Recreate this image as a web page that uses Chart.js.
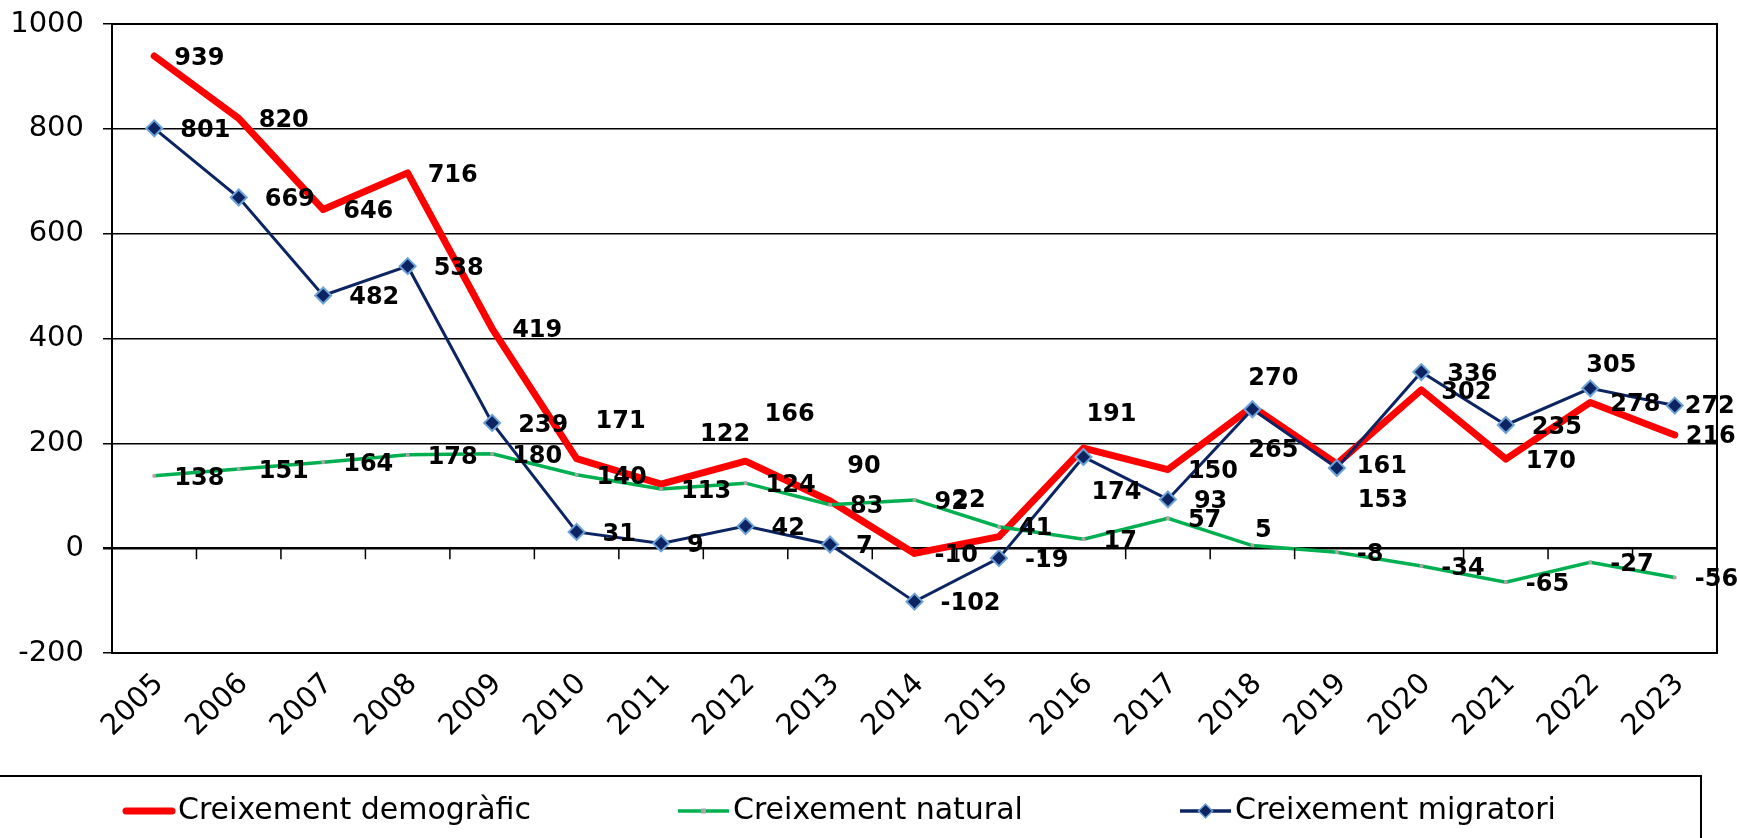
<!DOCTYPE html>
<html>
<head>
<meta charset="utf-8">
<script src="https://cdn.jsdelivr.net/npm/chart.js@4.4.0/dist/chart.umd.min.js"></script>
<style>
  html, body { margin: 0; padding: 0; background: #fff; }
  canvas { display: block; }
</style>
</head>
<body>
<canvas id="chart" width="1737" height="838"></canvas>
<script>
// data
var years = ['2005','2006','2007','2008','2009','2010','2011','2012','2013','2014',
             '2015','2016','2017','2018','2019','2020','2021','2022','2023'];
var demografic = [939, 820, 646, 716, 419, 171, 122, 166, 90, -10, 22, 191, 150, 270, 161, 302, 170, 278, 216];
var natural    = [138, 151, 164, 178, 180, 140, 113, 124, 83, 92, 41, 17, 57, 5, -8, -34, -65, -27, -56];
var migratori  = [801, 669, 482, 538, 239, 31, 9, 42, 7, -102, -19, 174, 93, 265, 153, 336, 235, 305, 272];
var yTicks = [-200, 0, 200, 400, 600, 800, 1000];

// labels that were moved by hand in the original (label centre relative to the point)
var shiftDemo = {5: [44, -37], 6: [64, -49], 7: [44, -46], 8: [34, -34], 10: [-30, -36],
                 11: [28, -33], 13: [21, -28], 18: [36, 2]};
var shiftNat  = {13: [11, -15]};
var shiftMig  = {11: [33, 36], 13: [21, 42], 14: [46, 33], 17: [21, -23], 18: [35, 1]};

var FONT = "'DejaVu Sans', Verdana, sans-serif";
Chart.defaults.color = '#000';
Chart.defaults.font.family = FONT;

// data labels, drawn next to each point
var labelsPlugin = {
  id: 'labels',
  afterDatasetsDraw: function(chart) {
    var ctx = chart.ctx;
    ctx.save();
    ctx.font = 'bold 24px ' + FONT;
    ctx.fillStyle = '#000';
    ctx.textAlign = 'center';
    ctx.textBaseline = 'middle';
    chart.data.datasets.forEach(function(ds, di) {
      var meta = chart.getDatasetMeta(di);
      meta.data.forEach(function(pt, i) {
        var txt = String(ds.data[i]);
        var w = ctx.measureText(txt).width;
        var cx = pt.x + ds.labelGap + w / 2;
        var cy = pt.y + 2.5;
        var s = ds.labelShift[i];
        if (s) { cx = pt.x + s[0]; cy = pt.y + s[1]; }
        ctx.fillText(txt, cx, cy);
      });
    });
    ctx.restore();
  }
};

// plot frame + small tick marks on the zero line
var framePlugin = {
  id: 'frame',
  afterDraw: function(chart) {
    var ctx = chart.ctx, a = chart.chartArea;
    var x = chart.scales.x, y = chart.scales.y;
    ctx.save();
    ctx.strokeStyle = '#000';
    ctx.lineWidth = 2;
    ctx.strokeRect(a.left, a.top, a.right - a.left, a.bottom - a.top);
    var y0 = y.getPixelForValue(0);
    ctx.lineWidth = 1.5;
    ctx.beginPath();
    for (var i = 1; i < years.length; i++) {
      var bx = (x.getPixelForValue(i - 1) + x.getPixelForValue(i)) / 2;
      ctx.moveTo(bx, y0);
      ctx.lineTo(bx, y0 + 11);
    }
    ctx.stroke();
    ctx.restore();
  }
};

// legend in a box under the chart
var legendPlugin = {
  id: 'boxLegend',
  afterDraw: function(chart) {
    var ctx = chart.ctx;
    ctx.save();
    ctx.strokeStyle = '#000';
    ctx.lineWidth = 2;
    ctx.strokeRect(-5, 776, 1706, 80);
    var ly = 811;
    ctx.lineCap = 'round';
    // red
    ctx.strokeStyle = '#ff0000'; ctx.lineWidth = 7;
    ctx.beginPath(); ctx.moveTo(126, ly); ctx.lineTo(172, ly); ctx.stroke();
    // green
    ctx.lineCap = 'butt';
    ctx.strokeStyle = '#00b050'; ctx.lineWidth = 3.5;
    ctx.beginPath(); ctx.moveTo(678, ly); ctx.lineTo(729, ly); ctx.stroke();
    ctx.fillStyle = '#a6a6a6'; ctx.fillRect(701, ly - 2.5, 5, 5);
    // navy
    ctx.strokeStyle = '#0c2461'; ctx.lineWidth = 3.5;
    ctx.beginPath(); ctx.moveTo(1180, ly); ctx.lineTo(1231, ly); ctx.stroke();
    ctx.fillStyle = '#0c2461'; ctx.strokeStyle = '#6fa3d8'; ctx.lineWidth = 1.5;
    ctx.beginPath(); ctx.moveTo(1205.5, ly - 7); ctx.lineTo(1212.5, ly); ctx.lineTo(1205.5, ly + 7); ctx.lineTo(1198.5, ly); ctx.closePath();
    ctx.fill(); ctx.stroke();
    ctx.fillStyle = '#000';
    ctx.font = '30px ' + FONT;
    ctx.textBaseline = 'middle';
    ctx.fillText('Creixement demogràfic', 178, ly);
    ctx.fillText('Creixement natural', 733, ly);
    ctx.fillText('Creixement migratori', 1235, ly);
    ctx.restore();
  }
};

var ctx = document.getElementById('chart').getContext('2d');
var chart = new Chart(ctx, {
  type: 'line',
  data: {
    labels: years,
    datasets: [
      {
        label: 'Creixement demogràfic',
        data: demografic,
        borderColor: '#ff0000',
        backgroundColor: '#ff0000',
        borderWidth: 7,
        borderCapStyle: 'round',
        borderJoinStyle: 'round',
        pointRadius: 0,
        tension: 0,
        order: 3,
        labelGap: 20,
        labelShift: shiftDemo
      },
      {
        label: 'Creixement natural',
        data: natural,
        borderColor: '#00b050',
        backgroundColor: '#a6a6a6',
        borderWidth: 3.5,
        pointStyle: 'rect',
        pointRadius: 2.5,
        pointBorderWidth: 0,
        pointBackgroundColor: '#a6a6a6',
        tension: 0,
        order: 2,
        labelGap: 20,
        labelShift: shiftNat
      },
      {
        label: 'Creixement migratori',
        data: migratori,
        borderColor: '#0c2461',
        borderWidth: 3,
        pointStyle: 'rectRot',
        pointRadius: 8,
        pointBackgroundColor: '#0c2461',
        pointBorderColor: '#6fa3d8',
        pointBorderWidth: 2,
        tension: 0,
        order: 1,
        labelGap: 26,
        labelShift: shiftMig
      }
    ]
  },
  options: {
    responsive: false,
    animation: false,
    layout: { padding: { top: 24, right: 20, left: 0, bottom: 0 } },
    plugins: {
      legend: { display: false },
      tooltip: { enabled: false }
    },
    scales: {
      x: {
        offset: true,
        grid: { display: false, drawTicks: false },
        border: { display: false },
        ticks: {
          autoSkip: false,
          maxRotation: 45,
          minRotation: 45,
          padding: 14,
          labelOffset: 5,
          font: { size: 29 }
        },
        afterFit: function(s) { s.height = 185; }
      },
      y: {
        min: -200,
        max: 1000,
        afterBuildTicks: function(s) { s.ticks = yTicks.map(function(v) { return {value: v}; }); },
        grid: {
          color: '#000',
          lineWidth: function(c) { return c.tick && c.tick.value === 0 ? 2.5 : 1.5; },
          tickLength: 9
        },
        border: { color: '#000', width: 2 },
        ticks: {
          padding: 19,
          font: { size: 29 },
          callback: function(v) { return String(v); }
        },
        afterFit: function(s) { s.width = 112; s.paddingTop = 0; s.paddingBottom = 0; }
      }
    }
  },
  plugins: [labelsPlugin, framePlugin, legendPlugin]
});
</script>
</body>
</html>
